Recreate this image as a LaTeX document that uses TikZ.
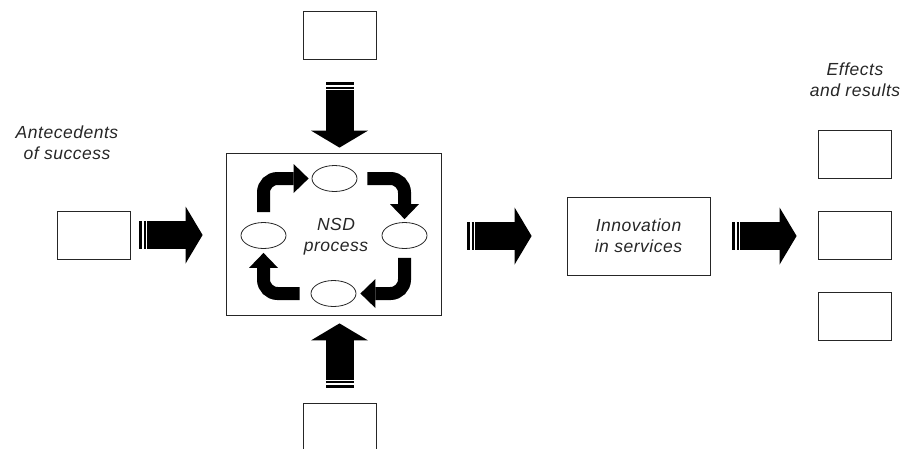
\documentclass[tikz,border=0pt]{standalone}
\usepackage{fontspec}
\setmainfont{Liberation Sans}[LetterSpace=3]
\usepackage{tikz}
\usetikzlibrary{positioning,shapes.geometric,arrows.meta}

\begin{document}
\begin{tikzpicture}[%NSD model
  x=1pt, y=-1pt,
  box/.style={rectangle, draw=black!85, line width=0.8pt, minimum width=73pt, minimum height=48pt, inner sep=0pt},
  stagenode/.style={ellipse, draw=black!85, line width=0.8pt, minimum width=45pt, minimum height=26pt, inner sep=0pt},
  txt/.style={font=\fontsize{17.5}{21}\selectfont\itshape, align=center, text=black!85},
  bigarrow/.style={line width=28pt, -{Triangle[width=57pt,length=17pt,line width=0pt]}, dash pattern=on 3pt off 1.2pt on 2.5pt off 1.2pt on 400pt},
  cyclearrow/.style={line width=13pt, rounded corners=14pt, -{Triangle[width=29pt,length=15pt,line width=0pt]}}
]
\useasboundingbox (0,0) rectangle (903,448);
\clip (0,0) rectangle (903,448);

%Nodes
\node[box, minimum width=215pt, minimum height=162pt] (nsd) at (333.5,234) {};
\node[txt] (nsdtext) at (336,237) {NSD\\process};
\node[stagenode] (etop) at (334.5,178.5) {};
\node[stagenode] (eleft) at (263.5,235.5) {};
\node[stagenode] (eright) at (404.5,235.5) {};
\node[stagenode] (ebot) at (333.5,293.5) {};

\node[box] (ante) at (93.5,235) {};
\node[txt] (antetext) at (67,142.5) {Antecedents\\of success};
\node[box] (topbox) at (339.5,35) {};
\node[box, minimum height=50pt] (botbox) at (339.5,428) {};

\node[box, minimum width=143pt, minimum height=78pt, txt] (innov) at (638.5,236) {Innovation\\in services};

\node[box] (res2) at (854.5,235) {};
\node[box, above=32pt of res2] (res1) {};
\node[box, below=33pt of res2] (res3) {};
\node[txt] (restext) at (855,80) {Effects\\and results};

%Cycle arrows
\draw[cyclearrow] ([yshift=10pt]eleft.north) |- ([xshift=-3pt]etop.west);
\draw[cyclearrow] ([xshift=10pt]etop.east) -| ([yshift=3pt]eright.north);
\draw[cyclearrow] ([yshift=-9pt]eright.south) |- ([xshift=4pt]ebot.east);
\draw[cyclearrow] ([xshift=-11pt]ebot.west) -| ([yshift=-4pt]eleft.south);

%Block arrows
\draw[bigarrow] ([xshift=9pt]ante.east) -- ([xshift=-23pt]nsd.west |- ante.east);
\draw[bigarrow] ([yshift=-23pt]topbox.south) -- ([yshift=5pt]topbox.south |- nsd.north);
\draw[bigarrow] ([yshift=15pt]botbox.north) -- ([yshift=-8pt]botbox.north |- nsd.south);
\draw[bigarrow] ([xshift=26pt]nsd.east |- innov.west) -- ([xshift=-35pt]innov.west);
\draw[bigarrow] ([xshift=22pt]innov.east) -- ([xshift=-21pt]res2.west |- innov.east);
\end{tikzpicture}
\end{document}
